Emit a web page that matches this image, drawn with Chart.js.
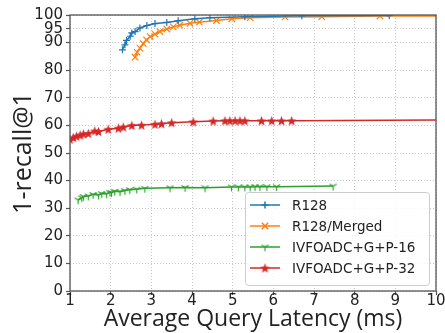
<!DOCTYPE html>
<html>
<head>
<meta charset="utf-8">
<script src="https://cdn.jsdelivr.net/npm/chart.js@4.4.1/dist/chart.umd.min.js"></script>
<style>
  html, body { margin: 0; padding: 0; background: #fff; }
  #wrap { width: 445px; height: 333px; }
</style>
</head>
<body>
<div id="wrap"><canvas id="recallChart" width="445" height="333"></canvas></div>
<script>
// series (x = latency ms, y = 1-recall@1 %)
const seriesNames = ["R128", "R128/Merged", "IVFOADC+G+P-16", "IVFOADC+G+P-32"];

const r128X = [2.29, 2.35, 2.39, 2.48, 2.52, 2.6, 2.72, 2.89, 3.09, 3.38, 3.66, 4.07, 4.44, 5.3, 6.7, 8.85];
const r128Y = [87.4, 89.2, 90.8, 92.3, 93.5, 94.0, 95.3, 96.2, 96.9, 97.3, 97.9, 98.6, 99.0, 99.4, 99.7, 99.8];

const mergedX = [2.6, 2.65, 2.72, 2.8, 2.88, 2.97, 3.09, 3.21, 3.38, 3.54, 3.7, 3.95, 4.18, 4.6, 4.98, 5.43, 6.29, 7.19, 8.62, 12];
const mergedY = [84.7, 86.5, 88.0, 89.6, 91.0, 92.2, 93.1, 94.0, 94.9, 95.7, 96.3, 97.0, 97.4, 98.0, 98.6, 99.0, 99.3, 99.4, 99.6, 99.8];

const p16X = [1.2, 1.29, 1.33, 1.45, 1.57, 1.7, 1.78, 1.9, 1.98, 2.02, 2.1, 2.23, 2.35, 2.47, 2.64, 2.84, 3.46, 3.83, 4.32, 4.97, 5.14, 5.3, 5.43, 5.55, 5.67, 5.84, 6.08, 7.47];
const p16Y = [33.0, 33.8, 34.2, 34.4, 35.0, 34.8, 35.3, 35.2, 35.8, 35.6, 36.1, 36.0, 36.4, 36.7, 36.9, 37.2, 37.4, 37.5, 37.4, 37.7, 37.7, 37.7, 37.7, 37.8, 37.8, 37.8, 37.8, 38.0];

const p32X = [1.0, 1.08, 1.16, 1.25, 1.33, 1.45, 1.61, 1.7, 1.94, 2.19, 2.31, 2.52, 2.76, 3.09, 3.25, 3.5, 4.03, 4.52, 4.81, 4.93, 5.06, 5.18, 5.3, 5.71, 5.96, 6.2, 6.45, 14];
const p32Y = [55.0, 55.6, 56.1, 56.5, 56.9, 57.1, 58.0, 57.8, 58.6, 59.0, 59.4, 60.0, 60.1, 60.4, 60.6, 61.0, 61.3, 61.6, 61.7, 61.7, 61.7, 61.7, 61.7, 61.7, 61.7, 61.7, 61.7, 62.3];

const xTicks = [1, 2, 3, 4, 5, 6, 7, 8, 9, 10];
const yTicks = [0, 10, 20, 30, 40, 50, 60, 70, 80, 90, 95, 100];

const colors = ["#1f77b4", "#ff7f0e", "#2ca02c", "#d62728"];

function toPoints(xs, ys) {
  return xs.map((x, i) => ({ x: x, y: ys[i] }));
}

// small canvases for the matplotlib markers chart.js doesn't have
function markerCanvas(kind, color) {
  const c = document.createElement("canvas");
  c.width = 11;
  c.height = 11;
  const g = c.getContext("2d");
  const m = 5.5;
  g.strokeStyle = color;
  g.fillStyle = color;
  g.lineWidth = 1.2;
  if (kind === "tri") {
    g.beginPath();
    g.moveTo(m, m); g.lineTo(m, m + 4.2);
    g.moveTo(m, m); g.lineTo(m - 3.6, m - 2.1);
    g.moveTo(m, m); g.lineTo(m + 3.6, m - 2.1);
    g.stroke();
  } else {
    g.beginPath();
    for (let i = 0; i < 10; i++) {
      const r = i % 2 ? 2.2 : 5.2;
      const a = -Math.PI / 2 + i * Math.PI / 5;
      g.lineTo(m + r * Math.cos(a), m + 0.5 + r * Math.sin(a));
    }
    g.closePath();
    g.fill();
  }
  return c;
}

const triMarker = markerCanvas("tri", colors[2]);
const starMarker = markerCanvas("star", colors[3]);

function makeSet(i, xs, ys, style, radius) {
  return {
    label: seriesNames[i],
    data: toPoints(xs, ys),
    showLine: true,
    borderColor: colors[i],
    backgroundColor: colors[i],
    borderWidth: 1.5,
    tension: 0,
    pointStyle: style,
    pointRadius: radius,
    pointBorderWidth: 1.2,
    pointBorderColor: colors[i],
    pointBackgroundColor: colors[i],
  };
}

const datasets = [
  makeSet(0, r128X, r128Y, "cross", 3.5),
  makeSet(1, mergedX, mergedY, "crossRot", 4.5),
  makeSet(2, p16X, p16Y, triMarker, 4),
  makeSet(3, p32X, p32Y, starMarker, 4),
];

// box around the axes like matplotlib spines
const framePlugin = {
  id: "frame",
  afterDatasetsDraw(chart) {
    const a = chart.chartArea;
    const g = chart.ctx;
    g.save();
    g.strokeStyle = "#555";
    g.lineWidth = 1.3;
    g.strokeRect(a.left, a.top, a.right - a.left, a.bottom - a.top);
    g.restore();
  }
};

// legend inside the plot, lower right
const boxLegend = {
  id: "boxLegend",
  afterDraw(chart) {
    const a = chart.chartArea;
    const g = chart.ctx;
    const rowH = 21;
    const w = 184, h = 93;
    const x0 = a.right - 7 - w;
    const y0 = a.bottom - 6 - h;
    g.save();
    g.fillStyle = "rgba(255,255,255,0.8)";
    g.strokeStyle = "#cccccc";
    g.lineWidth = 1;
    g.beginPath();
    g.roundRect(x0 + 0.5, y0 + 0.5, w, h, 3);
    g.fill();
    g.stroke();
    g.font = "13.5px 'DejaVu Sans'";
    g.textBaseline = "middle";
    chart.data.datasets.forEach((ds, i) => {
      const cy = y0 + 13 + i * rowH;
      g.strokeStyle = ds.borderColor;
      g.lineWidth = 1.5;
      g.beginPath();
      g.moveTo(x0 + 5, cy);
      g.lineTo(x0 + 35, cy);
      g.stroke();
      Chart.helpers.drawPoint(g, {
        pointStyle: ds.pointStyle,
        radius: ds.pointRadius,
        borderWidth: ds.pointBorderWidth,
        rotation: 0
      }, x0 + 20, cy);
      g.fillStyle = "#222";
      g.fillText(ds.label, x0 + 47, cy + 1);
    });
    g.restore();
  }
};

const tickFont = { family: "DejaVu Sans", size: 15 };

new Chart(document.getElementById("recallChart"), {
  type: "scatter",
  data: { datasets: datasets },
  options: {
    responsive: false,
    animation: false,
    layout: { padding: { top: 15, right: 9, left: 0, bottom: 0 } },
    plugins: {
      legend: { display: false },
      tooltip: { enabled: false }
    },
    scales: {
      x: {
        type: "linear",
        min: 1,
        max: 10,
        afterBuildTicks: s => { s.ticks = xTicks.map(v => ({ value: v })); },
        afterFit: s => { s.height = 42; },
        ticks: { font: tickFont, color: "#222", padding: -3, maxRotation: 0 },
        grid: { color: "#c8c8c8", lineWidth: 1, tickLength: 4, tickColor: "#555", tickWidth: 1.2 },
        border: { display: false, dash: [1, 2] },
        title: {
          display: true,
          text: "Average Query Latency (ms)",
          font: { family: "Open Sans", size: 23, lineHeight: 1.2 },
          color: "#222",
          padding: { top: 0, bottom: 0 }
        }
      },
      y: {
        type: "linear",
        min: 0,
        max: 100,
        afterBuildTicks: s => { s.ticks = yTicks.map(v => ({ value: v })); },
        afterFit: s => { s.width = 70; },
        ticks: { font: tickFont, color: "#222", padding: 3 },
        grid: { color: "#c8c8c8", lineWidth: 1, tickLength: 4, tickColor: "#555", tickWidth: 1.2 },
        border: { display: false, dash: [1, 2] },
        title: {
          display: true,
          text: "1-recall@1",
          font: { family: "Open Sans", size: 25, lineHeight: 1.2 },
          color: "#222",
          padding: { top: 9, bottom: 0 }
        }
      }
    }
  },
  plugins: [framePlugin, boxLegend]
});
</script>
</body>
</html>
